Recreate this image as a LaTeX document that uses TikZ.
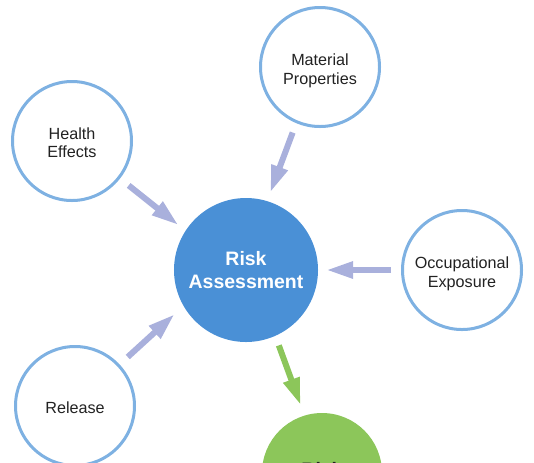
\documentclass[tikz,border=0pt]{standalone}
\usepackage{fontspec}
\setmainfont{Liberation Sans}
\usetikzlibrary{arrows.meta}

\definecolor{ringblue}{HTML}{7EB1E2}
\definecolor{coreblue}{HTML}{4A90D6}
\definecolor{leafgreen}{HTML}{8CC65A}
\definecolor{arrowlav}{HTML}{A9B0DC}
\definecolor{textdark}{HTML}{222222}

\newcommand{\topgap}[1]{\rule{0pt}{#1}}

\begin{document}
\begin{tikzpicture}[
  x=0.03cm, y=-0.03cm,
  factor/.style={circle, draw=ringblue, line width=0.09cm, fill=white, minimum size=3.57cm, inner sep=0pt, align=center, text=textdark, font=\fontsize{13.8}{16}\selectfont},
  core/.style={circle, fill=coreblue, minimum size=4.32cm, inner sep=0pt, align=center, text=white, font=\fontsize{16.6}{20}\selectfont\bfseries},
  result/.style={circle, fill=leafgreen, minimum size=3.6cm, inner sep=0pt, align=center, text=textdark, font=\fontsize{16.6}{20}\selectfont\bfseries},
  flow/.style={draw=arrowlav, line width=0.18cm, -{Triangle[length=0.81cm, width=0.48cm]}, shorten <=0.3cm, shorten >=0.27cm}
]

  % Frame (pixel grid, y downwards)
  \useasboundingbox (0,0) rectangle (534,462);
  \clip (0,0) rectangle (534,462);

  % Centre
  \node[core] (risk) at (246,270) {Risk\\Assessment};

  % Surrounding factors
  \node[factor] (matprop) at (320,67) {\topgap{17pt}Material\\Properties};
  \node[factor] (health) at (72,141) {\topgap{13pt}Health\\Effects};
  \node[factor] (occup) at (462,270) {\topgap{17pt}Occupational\\Exposure};
  \node[factor] (release) at (75,406) {\topgap{13pt}Release};

  % Outcome (cut off by the frame)
  \node[result] (charact) at (322,473) {\raisebox{6pt}{Risk}};

  % Inputs into the assessment
  \draw[flow] (matprop.247) -- (risk.73);
  \draw[flow, shorten <=0.33cm] (health.322) -- (risk.147.5);
  \draw[flow, shorten >=0.24cm] (occup.west) -- (risk.east);
  \draw[flow, shorten <=0.33cm, shorten >=0.36cm] (release.43) -- (risk.210);

  % Output
  \draw[flow, draw=leafgreen, shorten >=0.33cm] (risk.294) -- (charact.107);

\end{tikzpicture}
\end{document}
